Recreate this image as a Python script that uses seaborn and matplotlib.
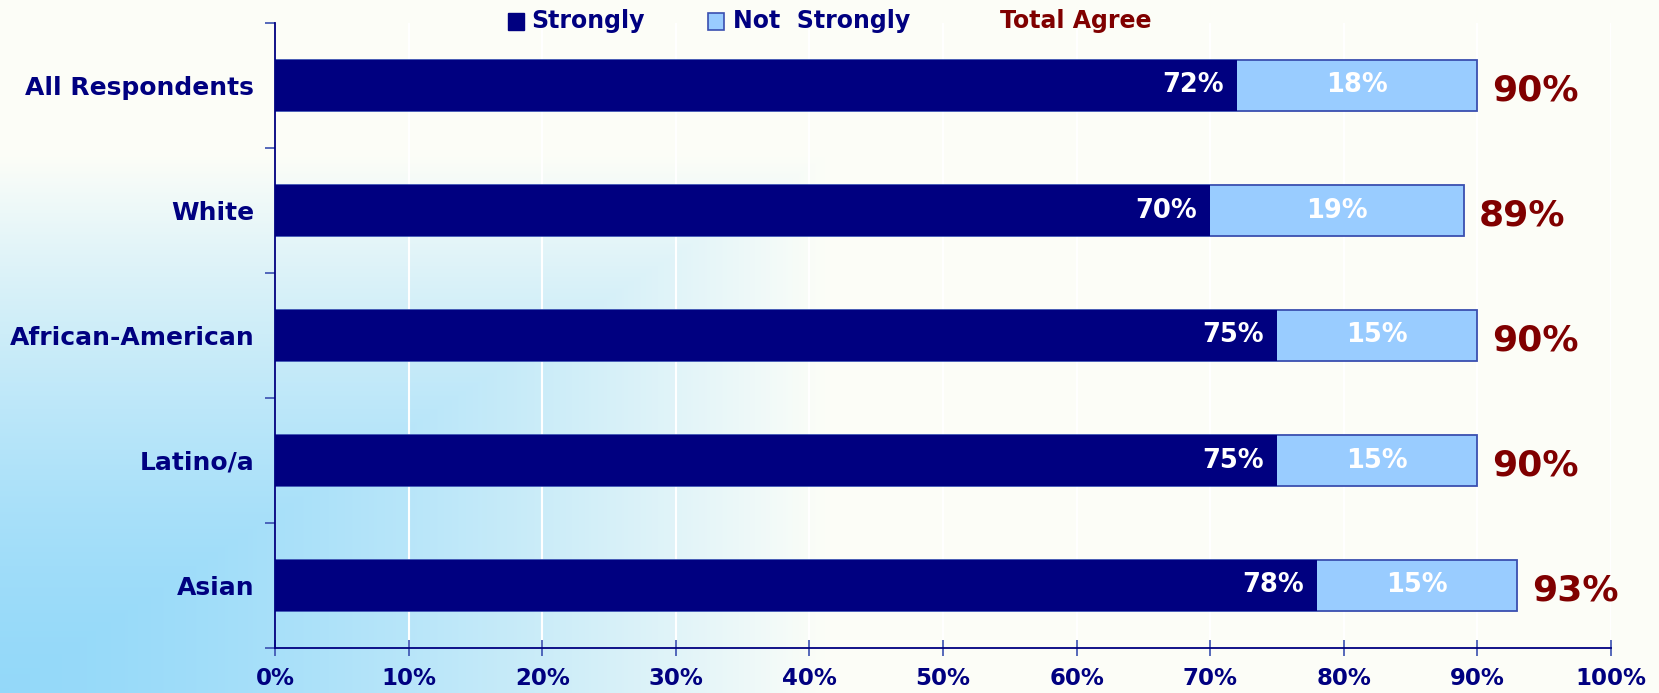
import numpy as np
import pandas as pd
import matplotlib.pyplot as plt
import seaborn as sns
from matplotlib.patches import Rectangle

# values
groups = ['All Respondents', 'White', 'African-American', 'Latino/a', 'Asian']
strongly = [72, 70, 75, 75, 78]
not_strongly = [18, 19, 15, 15, 15]
total_agree = [90, 89, 90, 90, 93]
x_ticks = [0, 10, 20, 30, 40, 50, 60, 70, 80, 90, 100]

NAVY = '#000080'
LIGHT = '#99CCFF'
EDGE = '#3a4fb0'
MAROON = '#800000'

df = pd.DataFrame({'group': groups, 'strongly': strongly,
                   'not_strongly': not_strongly, 'total': total_agree})
df['stack'] = df['strongly'] + df['not_strongly']

sns.set_style('white')
plt.rcParams['font.family'] = ['DejaVu Sans']
plt.rcParams['font.weight'] = 'bold'

W, H = 1659, 693
fig = plt.figure(figsize=(W / 100, H / 100), dpi=100)

# corner gradient background (light blue in the lower left, ivory elsewhere)
yy, xx = np.mgrid[0:H, 0:W]
t = np.clip(np.maximum(xx / 830, (H - yy) / 540), 0, 1) ** 1.5
t = t[..., None]
blue = np.array([0.58, 0.85, 0.98])
ivory = np.array([0.992, 0.996, 0.972])
bg = blue + (ivory - blue) * t
bg_ax = fig.add_axes([0, 0, 1, 1], zorder=-1)
bg_ax.imshow(bg, aspect='auto')
bg_ax.axis('off')

ax = fig.add_axes([275 / W, 1 - 648 / H, 1336 / W, 625 / H])
ax.set_facecolor('none')

sns.barplot(data=df, x='stack', y='group', orient='h', color=LIGHT, saturation=1,
            width=0.41, edgecolor=EDGE, linewidth=1.3, ax=ax, zorder=2)
sns.barplot(data=df, x='strongly', y='group', orient='h', color=NAVY, saturation=1,
            width=0.41, linewidth=0, ax=ax, zorder=3)

for i, row in df.iterrows():
    ax.text(row['strongly'] - 1.0, i, f"{row['strongly']}%", ha='right', va='center',
            color='white', fontsize=18.5, fontweight='bold', zorder=4)
    ax.text(row['strongly'] + row['not_strongly'] / 2, i, f"{row['not_strongly']}%",
            ha='center', va='center', color='white', fontsize=18.5, fontweight='bold', zorder=4)
    ax.text(row['stack'] + 1.1, i + 0.04, f"{row['total']}%", ha='left', va='center',
            color=MAROON, fontsize=26, fontweight='bold', zorder=4)

ax.set_xlim(0, 100)
ax.set_ylim(4.5, -0.5)
ax.set_xlabel('')
ax.set_ylabel('')

ax.set_xticks(x_ticks)
ax.set_xticklabels([f'{v}%' for v in x_ticks])
ax.tick_params(axis='x', bottom=True, direction='inout', length=12, width=1.2, color=EDGE,
               labelsize=16.5, labelcolor=NAVY, pad=8)
ax.set_yticks(range(len(groups)))
ax.set_yticklabels(groups)
ax.set_yticks(np.arange(-0.5, len(groups), 1.0), minor=True)
ax.tick_params(axis='y', which='major', left=True, length=0, labelsize=18,
               labelcolor=NAVY, pad=15)
ax.tick_params(axis='y', which='minor', left=True, direction='out', length=7, width=1.2,
               color=EDGE)

ax.xaxis.grid(True, color='white', linewidth=1.5)
ax.set_axisbelow(True)

for side in ['top', 'right']:
    ax.spines[side].set_visible(False)
for side in ['left', 'bottom']:
    ax.spines[side].set_color(NAVY)
    ax.spines[side].set_linewidth(1.3)

# legend drawn by hand across the top
fig.patches.append(Rectangle((508 / W, 1 - 30 / H), 16 / W, 17 / H, transform=fig.transFigure,
                             facecolor=NAVY, edgecolor=NAVY, linewidth=1))
fig.text(531 / W, 1 - 21 / H, 'Strongly', ha='left', va='center', fontsize=17,
         color=NAVY, fontweight='bold')
fig.patches.append(Rectangle((708 / W, 1 - 30 / H), 16 / W, 17 / H, transform=fig.transFigure,
                             facecolor=LIGHT, edgecolor=EDGE, linewidth=1.2))
fig.text(733 / W, 1 - 21 / H, 'Not  Strongly', ha='left', va='center', fontsize=17,
         color=NAVY, fontweight='bold')
fig.text(1000 / W, 1 - 21 / H, 'Total Agree', ha='left', va='center', fontsize=17,
         color=MAROON, fontweight='bold')

fig.savefig('out.png', dpi=100)
